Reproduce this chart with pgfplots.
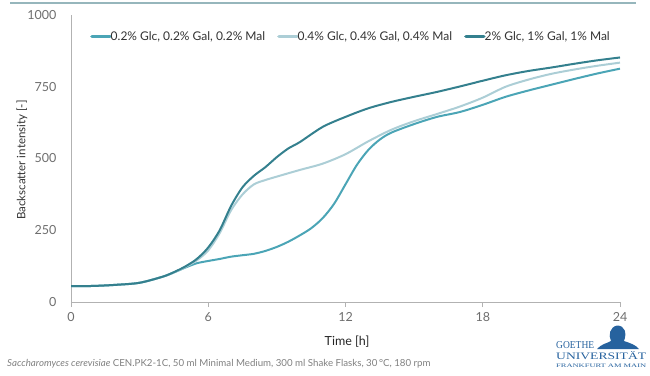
\documentclass[border=0pt]{standalone}
\usepackage{fontspec}
\setmainfont{Lato}
\newfontfamily\logofont{Liberation Serif}
\usepackage{graphicx}
\usepackage{pgfplots}
\pgfplotsset{compat=1.18}
\definecolor{cA}{RGB}{75,165,182}
\definecolor{cB}{RGB}{172,206,214}
\definecolor{cC}{RGB}{52,128,142}
\definecolor{gblue}{RGB}{38,98,158}
\definecolor{topline}{RGB}{150,182,188}
\definecolor{ticktext}{RGB}{110,110,110}
\begin{document}
\begin{tikzpicture}[x=1pt,y=1pt]
\useasboundingbox (0,0) rectangle (650,375);
\draw[topline, line width=1.5pt] (10,372) -- (636,372);
\begin{axis}[
  at={(71pt,73pt)}, anchor=south west,
  scale only axis, width=549pt, height=287pt,
  xmin=0, xmax=24, ymin=0, ymax=1000,
  axis lines*=left,
  axis line style={draw=gray!60, line width=0.8pt, -},
  xtick={0,6,12,18,24}, ytick={0,250,500,750,1000},
  tick align=outside, major tick length=5pt,
  xtick style={draw=gray!60, line width=0.8pt},
  ytick style={draw=none},
  /pgf/number format/assume math mode=true,
  /pgf/number format/1000 sep={},
  ticklabel style={font=\fontsize{12.5}{14}\selectfont, text=ticktext},
  xticklabel style={yshift=-2pt},
  yticklabel style={xshift=-6pt},
  legend columns=3,
  legend style={at={(axis description cs:0.51,0.925)}, anchor=center, draw=none, fill=none,
    font=\fontsize{12}{14}\selectfont, text=black!80,
    /tikz/every even column/.append style={column sep=10pt},
    /tikz/every odd column/.append style={column sep=-3pt}},
  legend image code/.code={\draw[#1, line width=3.5pt, line cap=round] (0pt,0pt) -- (18pt,0pt);},
  every axis plot/.append style={line width=2pt, line join=round},
]
\addplot[cA, smooth] coordinates {
(0,55) (1,56) (2,60) (3,67) (4,88) (4.5,103) (5,120) (5.5,135) (6,143) (6.5,150) (7,158) (7.5,163) (8,168) (8.5,178) (9,192) (9.5,210) (10,232) (10.5,257) (11,292) (11.5,342) (12,410) (12.5,478) (13,530) (13.5,566) (14,590) (15,620) (16,645) (17,662) (18,687) (19,715) (20,737) (21,757) (22,777) (23,796) (24,813)};
\addlegendentry{0.2\% Glc, 0.2\% Gal, 0.2\% Mal}
\addplot[cB, smooth] coordinates {
(0,55) (1,56) (2,60) (3,67) (4,88) (4.5,103) (5,122) (5.5,145) (6,180) (6.5,240) (7,320) (7.5,375) (8,410) (8.5,425) (9,437) (10,460) (11,482) (12,515) (13,560) (14,600) (15,630) (16,655) (17,681) (18,712) (19,750) (20,775) (21,795) (22,810) (23,823) (24,834)};
\addlegendentry{0.4\% Glc, 0.4\% Gal, 0.4\% Mal}
\addplot[cC, smooth] coordinates {
(0,55) (1,56) (2,60) (3,67) (4,88) (4.5,104) (5,124) (5.5,150) (6,190) (6.5,250) (7,335) (7.5,400) (8,440) (8.5,470) (9,505) (9.5,535) (10,557) (11,610) (12,645) (13,675) (14,697) (15,715) (16,732) (17,751) (18,771) (19,790) (20,805) (21,817) (22,830) (23,842) (24,852)};
\addlegendentry{2\% Glc, 1\% Gal, 1\% Mal}
\end{axis}
\node[rotate=90, font=\fontsize{11.5}{13}\selectfont, text=black!80] at (22,215) {Backscatter intensity [-]};
\node[font=\fontsize{12.5}{15}\selectfont, text=black!85] at (347,33) {Time [h]};
\node[anchor=west, font=\fontsize{9.7}{12}\selectfont, text=gray, inner sep=0pt] at (7,11)
  {\textit{Saccharomyces cerevisiae} CEN.PK2-1C, 50 ml Minimal Medium, 300 ml Shake Flasks, 30\,°C, 180 rpm};
% logo
\node[anchor=west, text=gblue, inner sep=0pt, font=\logofont] at (556,30) {\resizebox{38pt}{7pt}{GOETHE}};
\node[anchor=west, text=gblue, inner sep=0pt, font=\logofont] at (556,19.5) {\resizebox{90pt}{8pt}{UNIVERSIT\"AT}};
\node[anchor=west, text=gblue, inner sep=0pt, font=\logofont] at (556,9.5) {\resizebox{90pt}{3.5pt}{FRANKFURT AM MAIN}};
\fill[gblue] (597,26) .. controls (601,31) and (608,32) .. (611,34)
  .. controls (608,40) and (610,48) .. (617,49.5) .. controls (625,49.5) and (627,42) .. (624,34)
  .. controls (630,32) and (636,30) .. (639,26) -- cycle;
\end{tikzpicture}
\end{document}
